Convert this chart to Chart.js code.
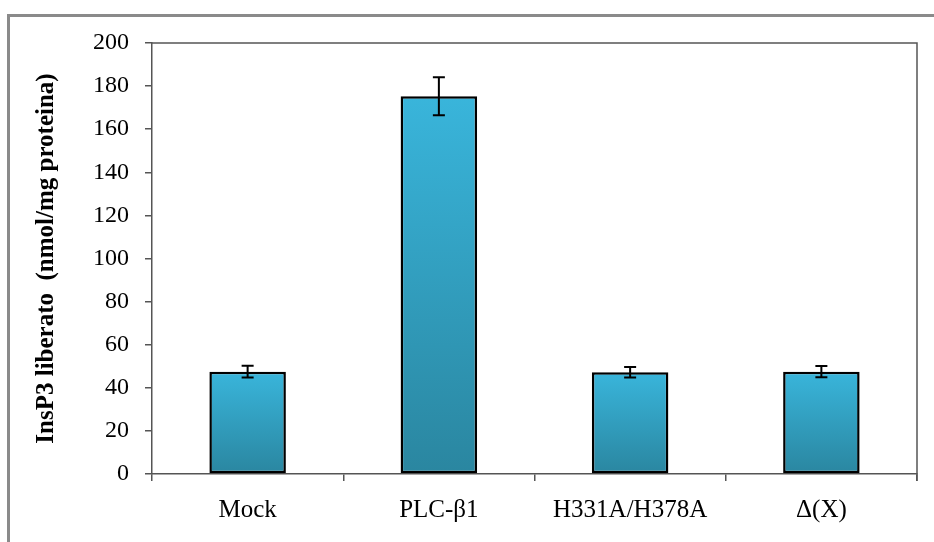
<!DOCTYPE html>
<html>
<head>
<meta charset="utf-8">
<script src="https://cdn.jsdelivr.net/npm/chart.js@4"></script>
<style>
  html, body { margin: 0; padding: 0; background: #fff; }
  #wrap { position: relative; width: 934px; height: 542px; }
  #frame { position: absolute; left: 7px; top: 14px; right: 0; bottom: 0;
           border-top: 3px solid #8a8a8a; border-left: 3px solid #8a8a8a; }
  canvas { position: absolute; left: 0; top: 0; }
</style>
</head>
<body>
<div id="wrap">
  <div id="frame"></div>
  <canvas id="c" width="934" height="542"></canvas>
</div>
<script>
const categories = ["Mock", "PLC-\u03b21", "H331A/H378A", "\u0394(X)"];
const values = [47.5, 175.3, 47.2, 47.5];
const errors = [2.7, 8.8, 2.4, 2.6];
const yTicks = [0, 20, 40, 60, 80, 100, 120, 140, 160, 180, 200];
const yTitle = "InsP3 liberato  (nmol/mg proteina)";

function barFill(ctx) {
  const chart = ctx.chart;
  const ys = chart.scales && chart.scales.y;
  if (!ys || ctx.type !== 'data' || !chart.chartArea) return '#33a0c0';
  const top = ys.getPixelForValue(values[ctx.dataIndex]);
  const base = ys.getPixelForValue(0);
  const g = chart.ctx.createLinearGradient(0, top, 0, base);
  g.addColorStop(0, '#39b5db');
  g.addColorStop(1, '#2a86a0');
  return g;
}

const errorBars = {
  id: 'errorBars',
  afterDatasetsDraw(chart) {
    const c = chart.ctx;
    const meta = chart.getDatasetMeta(0);
    const ys = chart.scales.y;
    c.save();
    c.strokeStyle = '#000';
    c.lineWidth = 2;
    meta.data.forEach((bar, i) => {
      const x = bar.x;
      const yt = ys.getPixelForValue(values[i] + errors[i]);
      const yb = ys.getPixelForValue(values[i] - errors[i]);
      c.beginPath();
      c.moveTo(x, yt); c.lineTo(x, yb);
      c.moveTo(x - 6, yt); c.lineTo(x + 6, yt);
      c.moveTo(x - 6, yb); c.lineTo(x + 6, yb);
      c.stroke();
    });
    c.restore();
  }
};

const frameLines = {
  id: 'frameLines',
  afterDraw(chart) {
    const a = chart.chartArea;
    const c = chart.ctx;
    c.save();
    c.strokeStyle = '#555';
    c.lineWidth = 1.5;
    c.beginPath();
    c.moveTo(a.left, a.top); c.lineTo(a.right, a.top); c.lineTo(a.right, a.bottom + 7);
    c.stroke();
    c.restore();
  }
};

new Chart(document.getElementById('c'), {
  type: 'bar',
  data: {
    labels: categories,
    datasets: [{
      data: values,
      backgroundColor: barFill,
      borderColor: '#000',
      borderWidth: 2.5,
      borderSkipped: false,
      categoryPercentage: 1,
      barPercentage: 0.4
    }]
  },
  options: {
    responsive: false,
    animation: false,
    devicePixelRatio: 1,
    layout: { padding: { left: 0, right: 17, top: 43, bottom: 0 } },
    plugins: { legend: { display: false }, tooltip: { enabled: false } },
    scales: {
      x: {
        grid: { display: true, drawOnChartArea: false, offset: true, tickLength: 7, color: '#555', lineWidth: 1.5 },
        border: { display: true, color: '#555', width: 1.5 },
        ticks: { color: '#000', padding: 14, font: { family: 'Liberation Serif', size: 25 } },
        afterFit(s) { s.height = 68; }
      },
      y: {
        min: 0, max: 200,
        afterBuildTicks(s) { s.ticks = yTicks.map(v => ({ value: v })); },
        grid: { display: true, drawOnChartArea: false, tickLength: 7, color: '#555', lineWidth: 1.5 },
        border: { display: true, color: '#555', width: 1.5 },
        ticks: { color: '#000', padding: 16, font: { family: 'Liberation Serif', size: 24 } },
        title: { display: true, text: yTitle, color: '#000', padding: { top: 32, bottom: 0 },
                 font: { family: 'Liberation Serif', size: 25, weight: 'bold' } },
        afterFit(s) { s.width = 152; }
      }
    }
  },
  plugins: [errorBars, frameLines]
});
</script>
</body>
</html>
